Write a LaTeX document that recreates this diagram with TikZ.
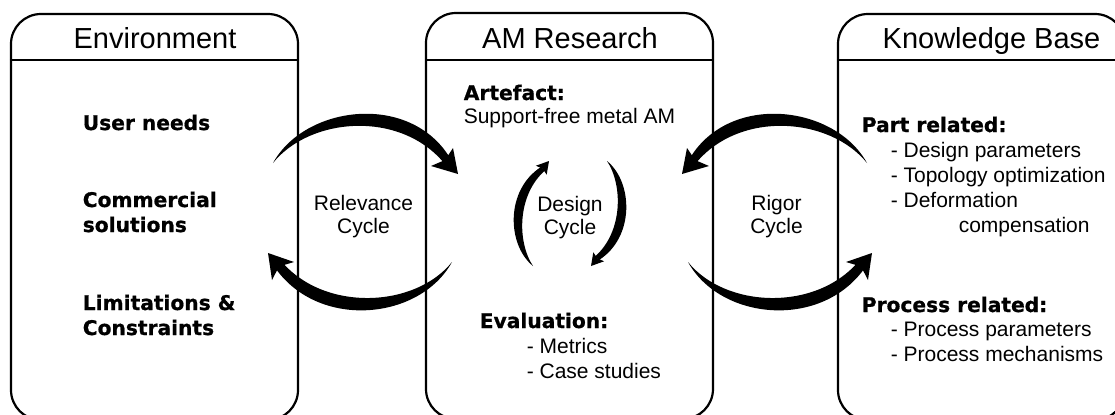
\documentclass[tikz,border=0pt]{standalone}
\usepackage{fontspec}
\setmainfont{Liberation Sans}
\newfontfamily\heavyfont{DejaVu Sans Bold}[FakeBold=0.8]
\usepackage{tikz}
\tikzstyle{panel}=[draw=black, line width=1.1pt, rounded corners=15pt, minimum width=143.5pt, minimum height=203pt, inner sep=0pt]
\tikzstyle{title}=[font=\fontsize{14.5}{17}\selectfont, anchor=base, inner sep=0pt]
\tikzstyle{plain}=[font=\fontsize{10.5}{12.5}\selectfont, anchor=base west, align=left, inner sep=0pt]
\tikzstyle{heavy}=[font=\heavyfont\fontsize{10.1}{12.5}\selectfont, anchor=base west, align=left, inner sep=0pt]
\tikzstyle{cyclelabel}=[font=\fontsize{10.5}{11.5}\selectfont, anchor=base, align=center, inner sep=0pt]
\tikzstyle{swoosh}=[fill=black, draw=none]

\begin{document}
\begin{tikzpicture}[x=0.5pt, y=-0.5pt, thick]
			\path[use as bounding box, clip] (0,0) rectangle (1115,414);
			% the three panels
			\node[panel] (env) at (154.5,217) {};
			\node[panel] (res) at (569.5,216) {};
			\node[panel] (kb) at (981.5,217) {};
			\coordinate (rule) at (0,60);
			\draw[line width=1.1pt] (env.west |- rule) -- (env.east |- rule);
			\draw[line width=1.1pt] (res.west |- rule) -- (res.east |- rule);
			\draw[line width=1.1pt] (kb.west |- rule) -- (kb.east |- rule);
			\node[title] (envtitle) at (155,48) {Environment};
			\node[title] (restitle) at (570,48) {AM Research};
			\node[title] (kbtitle) at (991.5,48) {Knowledge Base};
			% environment (multi-line nodes sit on their last line)
			\node[heavy] (needs) at (82,130) {User needs};
			\node[heavy] (commercial) at (82,232) {Commercial\\solutions};
			\node[heavy] (limits) at (82,335) {Limitations \&\\Constraints};
			% research
			\node[heavy] (artefact) at (463,100) {Artefact:};
			\node[plain] (support) at (463,123) {Support-free metal AM};
			\node[heavy] (evaluation) at (479,328) {Evaluation:};
			\node[plain] (metrics) at (526,378) {- Metrics\\- Case studies};
			% knowledge base
			\node[heavy] (part) at (861,132) {Part related:};
			\node[plain] (partlist) at (890,232) {- Design parameters\\- Topology optimization\\- Deformation\\\hspace*{34pt}compensation};
			\node[heavy] (process) at (861,312) {Process related:};
			\node[plain] (processlist) at (890,361) {- Process parameters\\- Process mechanisms};
			% cycles
			\node[cyclelabel] (relevance) at (363.5,233) {Relevance\\Cycle};
			\node[cyclelabel] (design) at (570,234.5) {Design\\Cycle};
			\node[cyclelabel] (rigor) at (776.5,233) {Rigor\\Cycle};
			\foreach \flip/\shift in {1/0,-1/1140} {
				\begin{scope}[shift={(\shift,0)}, xscale=\flip]
					\fill[swoosh] (273,163) .. controls (305,105) and (410,92) .. (450,158) -- (444,163) .. controls (400,110) and (310,117) .. (273,163) -- cycle;
					\fill[swoosh] (453,148) -- (458,174) -- (431,166) -- (445,160) -- cycle;
					\fill[swoosh] (452,262) .. controls (420,320) and (320,330) .. (276,269) -- (282,262) .. controls (325,312) and (415,308) .. (452,262) -- cycle;
					\fill[swoosh] (268,253) -- (294,262) -- (279,266.5) -- (272,280) -- cycle;
				\end{scope}
			}
			\foreach \turn in {0,180} {
				\begin{scope}[rotate around={\turn:(570,213.5)}]
					\fill[swoosh] (533,266) .. controls (507,245) and (505,190) .. (541,167) -- (545,170.5) .. controls (517,195) and (517,242) .. (533,266) -- cycle;
					\fill[swoosh] (549,161) -- (546.7,174.7) -- (542.6,168.7) -- (535.9,165.7) -- cycle;
				\end{scope}
			}
		\end{tikzpicture}
\end{document}
